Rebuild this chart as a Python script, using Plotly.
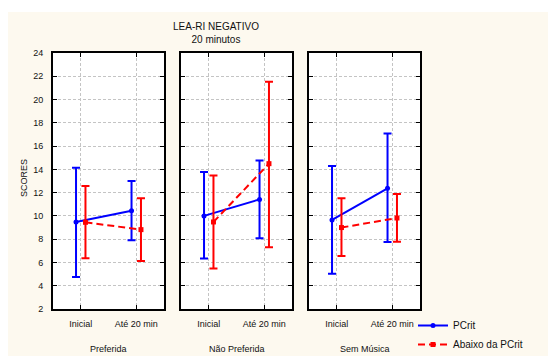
import plotly.graph_objects as go

# Conditions along the x axis and the three music groups (one panel each)
categories = ["Inicial", "Até 20 min"]
groups = ["Preferida", "Não Preferida", "Sem Música"]

# PCrit: means and interval limits per group, per moment
pcrit_mean = [[9.48, 10.45], [10.0, 11.42], [9.65, 12.37]]
pcrit_upper = [[14.14, 13.0], [13.77, 14.77], [14.29, 17.09]]
pcrit_lower = [[4.76, 7.9], [6.33, 8.08], [5.04, 7.76]]

# Abaixo da PCrit: means and interval limits per group, per moment
abaixo_mean = [[9.45, 8.82], [9.48, 14.49], [9.0, 9.82]]
abaixo_upper = [[12.57, 11.51], [13.48, 21.53], [11.51, 11.88]]
abaixo_lower = [[6.36, 6.13], [5.47, 7.3], [6.56, 7.79]]

y_ticks = list(range(2, 25, 2))

W, H = 548, 356
CREAM = "#fdf9ef"
FONT = "Liberation Sans, Arial, Helvetica, sans-serif"

# panel placement in pixels (left, right) and shared top/bottom
panels_px = [(53, 164), (181, 292), (309, 420)]
top_px, bottom_px = 53, 309


def px(x):
    return x / W


def py(y):
    return 1 - y / H


series = [
    dict(name="PCrit", mean=pcrit_mean, upper=pcrit_upper, lower=pcrit_lower,
         color="#0000ff", dash="solid", symbol="circle", shift=-0.085),
    dict(name="Abaixo da PCrit", mean=abaixo_mean, upper=abaixo_upper, lower=abaixo_lower,
         color="#ff0000", dash="7px,4px", symbol="square", shift=0.085),
]

fig = go.Figure()

for i, group in enumerate(groups):
    xa = "x" if i == 0 else f"x{i + 1}"
    ya = "y" if i == 0 else f"y{i + 1}"
    for s in series:
        m = s["mean"][i]
        up = s["upper"][i]
        lo = s["lower"][i]
        fig.add_trace(go.Scatter(
            x=[k + s["shift"] for k in range(len(categories))],
            y=m,
            mode="lines+markers",
            name=s["name"],
            legendgroup=s["name"],
            showlegend=(i == 0),
            line=dict(color=s["color"], width=2, dash=s["dash"]),
            marker=dict(symbol=s["symbol"], size=5, color=s["color"]),
            error_y=dict(type="data", symmetric=False,
                         array=[u - v for u, v in zip(up, m)],
                         arrayminus=[v - l for v, l in zip(m, lo)],
                         color=s["color"], thickness=2, width=4),
            xaxis=xa, yaxis=ya,
            hoverinfo="skip",
        ))

axis_common = dict(
    showgrid=True, gridcolor="#c4c4c4", gridwidth=1, griddash="3px,2px",
    showline=True, linecolor="black", linewidth=2, mirror="ticks",
    ticks="inside", ticklen=4, tickwidth=1, tickcolor="black",
    zeroline=False, fixedrange=True,
)

layout_axes = {}
for i, (x0, x1) in enumerate(panels_px):
    n = "" if i == 0 else str(i + 1)
    layout_axes[f"xaxis{n}"] = dict(
        axis_common, domain=[px(x0), px(x1)], range=[-0.5, 1.5],
        tickmode="array", tickvals=list(range(len(categories))), ticktext=categories,
        anchor=f"y{n}", ticklabelstandoff=5,
    )
    layout_axes[f"yaxis{n}"] = dict(
        axis_common, domain=[py(bottom_px), py(top_px)], range=[2, 24],
        tickmode="array", tickvals=y_ticks, ticktext=[str(t) for t in y_ticks],
        showticklabels=(i == 0), anchor=f"x{n}", ticklabelstandoff=6,
    )

annotations = [
    dict(text="LEA-RI NEGATIVO<br>20 minutos", x=px(216), y=py(32.5),
         xref="paper", yref="paper", xanchor="center", yanchor="middle",
         showarrow=False, font=dict(size=10, color="#111")),
    dict(text="SCORES", x=px(24), y=py(178), textangle=-90,
         xref="paper", yref="paper", xanchor="center", yanchor="middle",
         showarrow=False, font=dict(size=9, color="#111")),
]
for (x0, x1), group in zip(panels_px, groups):
    annotations.append(dict(
        text=group, x=px((x0 + x1) / 2), y=py(349),
        xref="paper", yref="paper", xanchor="center", yanchor="middle",
        showarrow=False, font=dict(size=9, color="#111")))

shapes = [
    dict(type="rect", xref="paper", yref="paper", x0=0, x1=1, y0=py(12), y1=1,
         fillcolor="white", line=dict(width=0), layer="below"),
    dict(type="rect", xref="paper", yref="paper", x0=0, x1=px(8), y0=0, y1=1,
         fillcolor="white", line=dict(width=0), layer="below"),
]

fig.update_layout(
    width=W, height=H,
    margin=dict(l=0, r=0, t=0, b=0, pad=0, autoexpand=False),
    paper_bgcolor=CREAM, plot_bgcolor="white",
    font=dict(family=FONT, size=9, color="#111"),
    showlegend=True,
    legend=dict(x=px(413), y=py(311), xanchor="left", yanchor="top",
                bgcolor="rgba(0,0,0,0)", font=dict(size=10, color="#111"),
                itemwidth=30, tracegroupgap=0),
    annotations=annotations,
    shapes=shapes,
    **layout_axes,
)

fig.write_html("out.html")
